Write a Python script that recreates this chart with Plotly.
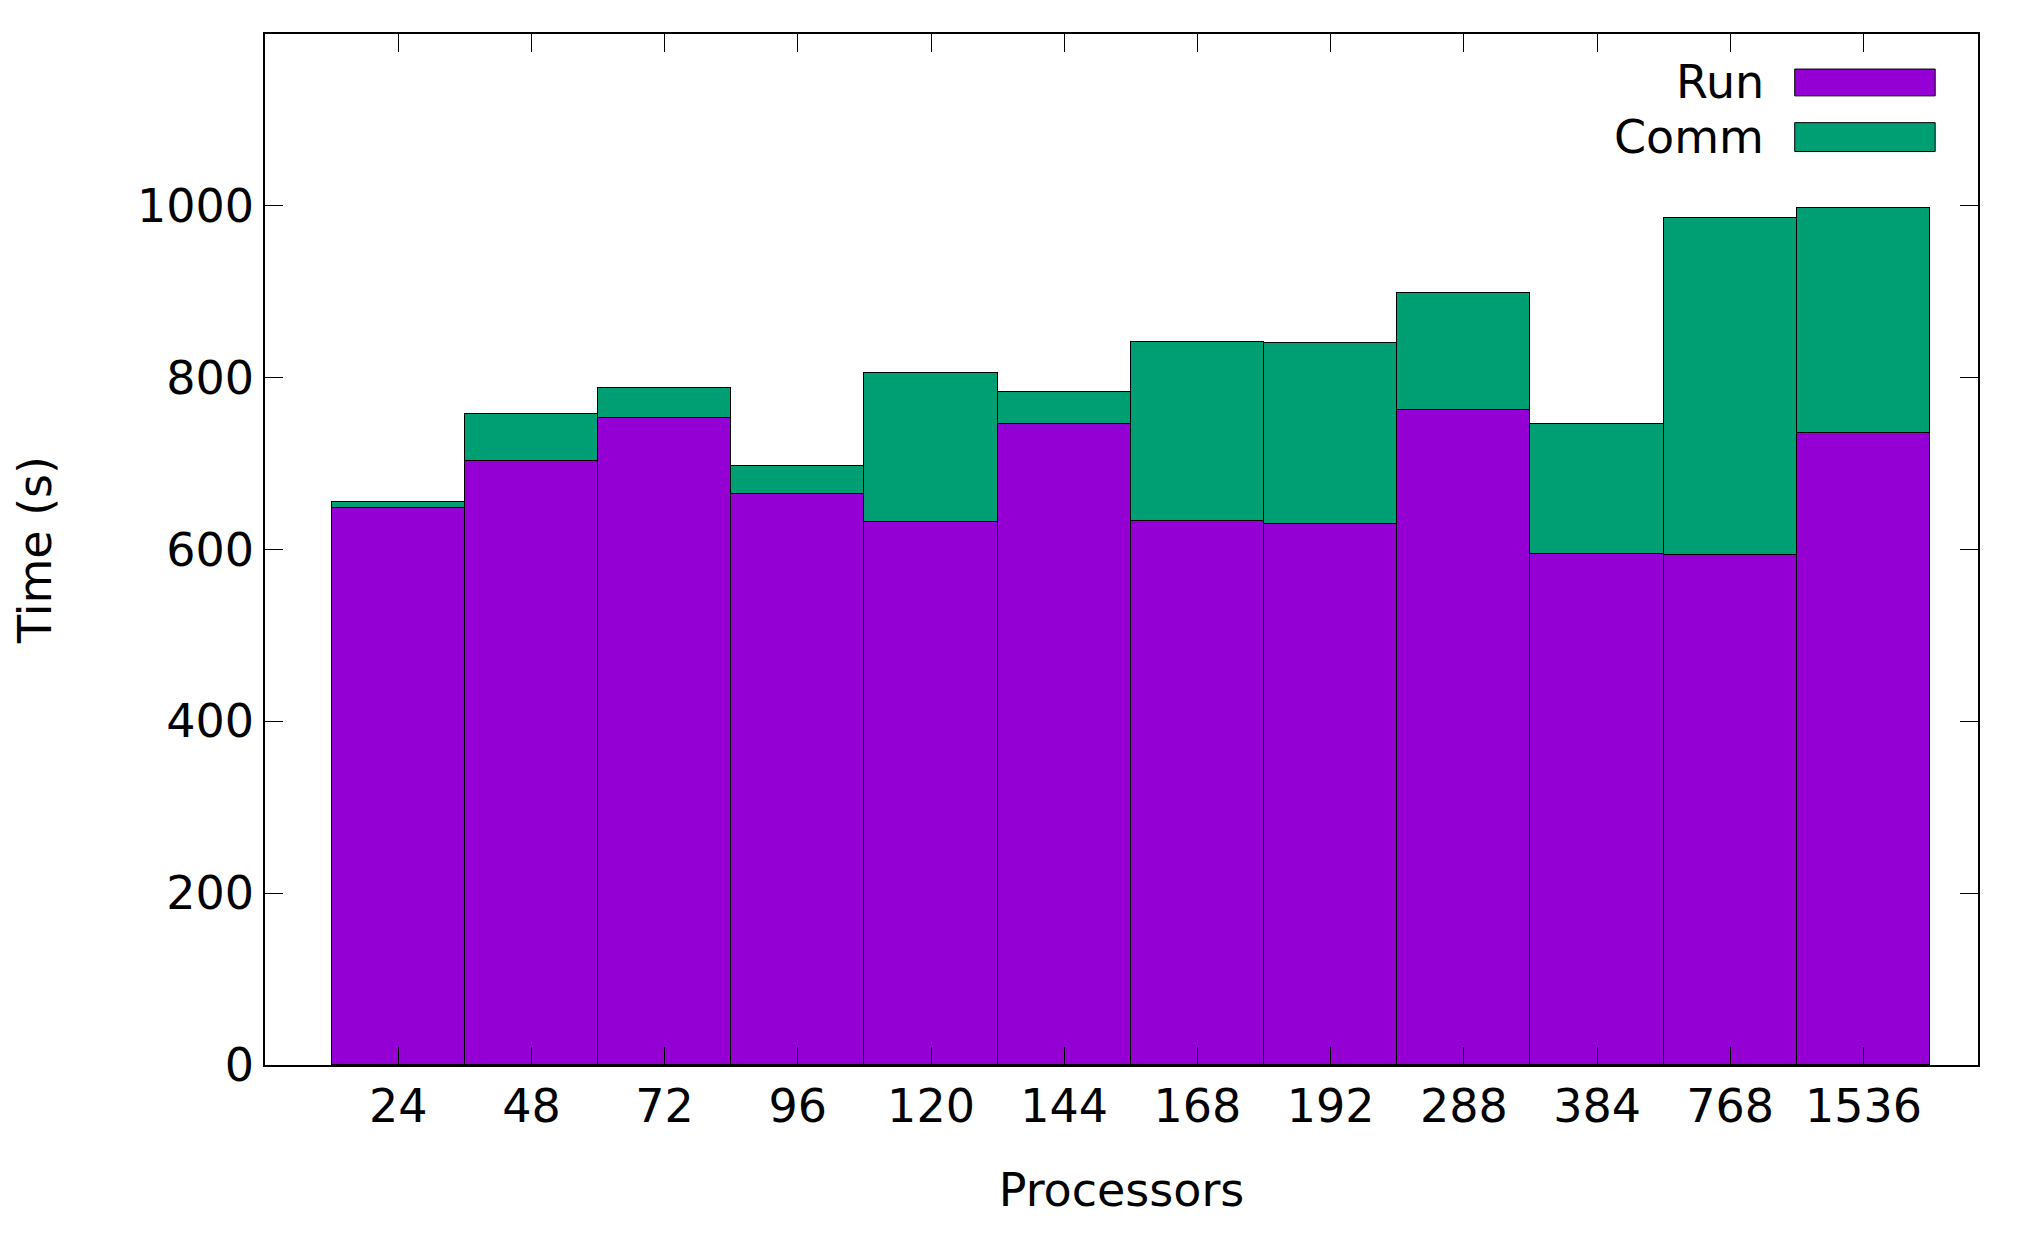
import plotly.graph_objects as go

processors = ["24", "48", "72", "96", "120", "144", "168", "192", "288", "384", "768", "1536"]
run = [648, 703, 753, 665, 632, 746, 633, 630, 762, 595, 594, 736]
total = [655, 758, 788, 697, 806, 783, 841, 840, 899, 746, 986, 997]
comm = [t - r for t, r in zip(total, run)]

purple = "#9400d3"
green = "#009e73"
line = dict(color="black", width=1)

fig = go.Figure()
fig.add_bar(x=list(range(len(processors))), y=run, name="Run", marker=dict(color=purple, line=line), width=1)
fig.add_bar(x=list(range(len(processors))), y=comm, name="Comm", marker=dict(color=green, line=line), width=1)

font = dict(family="DejaVu Sans", size=46, color="black")
fig.update_layout(
    barmode="stack", bargap=0, showlegend=False,
    width=2017, height=1239, plot_bgcolor="white", paper_bgcolor="white",
    margin=dict(l=257, r=47, t=26, b=182), font=font,
)
fig.update_xaxes(range=[-1.0, 11.86], tickmode="array", tickvals=list(range(len(processors))),
                 ticktext=processors, ticks="inside", ticklen=18, tickcolor="black",
                 showline=True, linecolor="black", linewidth=1.5, mirror="ticks",
                 showgrid=False, zeroline=False,
                 title=dict(text="Processors", standoff=42, font=font))
fig.update_yaxes(range=[0, 1200], dtick=200, ticks="inside", ticklen=18, tickcolor="black",
                 showline=True, linecolor="black", linewidth=1.5, mirror="ticks",
                 showgrid=False, zeroline=False,
                 title=dict(text="Time (s)", standoff=75, font=font))

for i, (nm, col) in enumerate([("Run", purple), ("Comm", green)]):
    y0, y1 = [(0.940, 0.966), (0.886, 0.914)][i]
    fig.add_shape(type="rect", xref="paper", yref="paper", x0=0.893, x1=0.975, y0=y0, y1=y1,
                  fillcolor=col, line=line)
    fig.add_annotation(xref="paper", yref="paper", x=0.876, y=(y0 + y1) / 2, text=nm,
                       showarrow=False, xanchor="right", yanchor="middle", font=font)

fig.write_html("out.html")
